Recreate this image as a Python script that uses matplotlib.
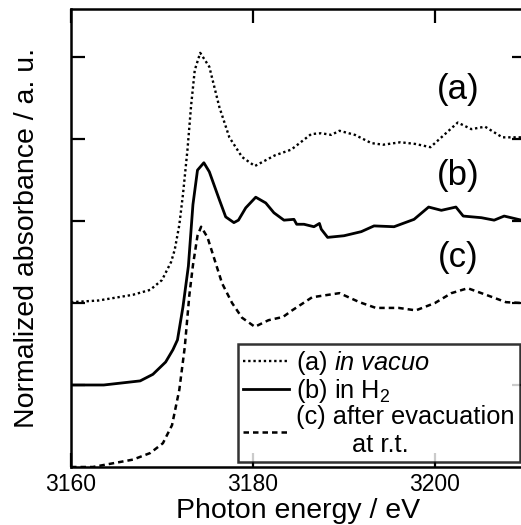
"""
XANES spectra: (a) in vacuo, (b) in H2, (c) after evacuation at r.t.
Output: out.png
"""

import matplotlib
matplotlib.use("Agg")
import matplotlib.pyplot as plt

plt.rcParams["font.family"] = ["Liberation Sans", "DejaVu Sans"]
plt.rcParams["mathtext.fontset"] = "custom"
plt.rcParams["mathtext.rm"] = "Liberation Sans"
plt.rcParams["mathtext.it"] = "Liberation Sans:italic"

# ── data (offset units, tick spacing = 1) ─────────────────────────────────────
energy_a = [3160.0, 3163.0, 3166.8, 3168.7, 3170.0, 3171.0, 3171.4, 3171.9, 3172.3,
            3172.8, 3173.2, 3173.6, 3174.2, 3175.2, 3176.3, 3177.4, 3178.8, 3180.2,
            3182.4, 3184.2, 3186.4, 3187.5, 3188.6, 3189.5, 3191.2, 3193.0, 3194.3,
            3196.2, 3197.8, 3199.5, 3202.5, 3204.0, 3205.5, 3207.4, 3209.5, 3210.0]
absorb_a = [2.01, 2.03, 2.10, 2.16, 2.28, 2.50, 2.65, 2.95, 3.32,
            3.87, 4.41, 4.84, 5.05, 4.88, 4.39, 4.02, 3.78, 3.67,
            3.80, 3.87, 4.06, 4.07, 4.05, 4.10, 4.05, 3.95, 3.93,
            3.96, 3.94, 3.90, 4.20, 4.12, 4.15, 4.02, 4.02, 4.02]

energy_b = [3160.0, 3163.6, 3167.6, 3169.0, 3170.4, 3171.2, 3171.7, 3172.3, 3172.9,
            3173.4, 3173.9, 3174.6, 3175.2, 3176.3, 3177.0, 3177.9, 3178.4, 3179.2,
            3180.3, 3181.4, 3182.3, 3183.4, 3184.5, 3184.8, 3185.6, 3186.7, 3187.3,
            3187.5, 3188.2, 3190.0, 3191.9, 3193.3, 3195.5, 3197.7, 3199.3, 3200.7,
            3202.3, 3203.1, 3205.1, 3206.5, 3207.6, 3209.5, 3210.0]
absorb_b = [1.00, 1.00, 1.05, 1.13, 1.28, 1.43, 1.55, 1.95, 2.45,
            3.20, 3.62, 3.71, 3.60, 3.26, 3.05, 2.98, 3.01, 3.16,
            3.29, 3.22, 3.10, 3.01, 3.02, 2.96, 2.96, 2.93, 2.97,
            2.90, 2.80, 2.82, 2.87, 2.94, 2.93, 3.02, 3.17, 3.13,
            3.17, 3.06, 3.04, 3.01, 3.06, 3.01, 3.01]

energy_c = [3160.0, 3162.4, 3166.8, 3168.7, 3170.1, 3171.1, 3171.9, 3172.5, 3173.0,
            3173.4, 3173.9, 3174.3, 3175.0, 3175.8, 3176.6, 3177.7, 3178.8, 3180.2,
            3181.7, 3183.3, 3184.3, 3186.5, 3189.5, 3191.7, 3193.5, 3196.0, 3197.9,
            3200.0, 3201.8, 3203.6, 3205.6, 3207.8, 3209.5, 3210.0]
absorb_c = [0.00, 0.00, 0.09, 0.17, 0.29, 0.51, 0.94, 1.46, 2.09,
            2.46, 2.82, 2.93, 2.80, 2.52, 2.24, 2.00, 1.82, 1.71,
            1.79, 1.83, 1.91, 2.07, 2.12, 2.01, 1.94, 1.94, 1.91,
            2.00, 2.12, 2.18, 2.10, 2.01, 2.00, 2.00]

curve_labels = ["(a)", "(b)", "(c)"]
label_pos = [(3202.5, 4.6), (3202.5, 3.55), (3202.5, 2.55)]
legend_labels = ["(a) $\\mathit{in\\ vacuo}$",
                 "(b) in H$_2$",
                 "(c) after evacuation\n        at r.t."]

x_ticks = [3160, 3180, 3200]
y_ticks = [1, 2, 3, 4, 5]


def main():
    fig = plt.figure(figsize=(5.21, 5.25), dpi=100)
    ax = fig.add_axes([71 / 521, 58 / 525, 455 / 521, 458 / 525])

    ax.plot(energy_a, absorb_a, color="black", linestyle=(0, (1, 1.2)), lw=1.7,
            label=legend_labels[0])
    ax.plot(energy_b, absorb_b, color="black", linestyle="-", lw=2.0,
            label=legend_labels[1])
    ax.plot(energy_c, absorb_c, color="black", linestyle=(0, (2.2, 1.6)), lw=1.8,
            label=legend_labels[2])

    for txt, (xx, yy) in zip(curve_labels, label_pos):
        ax.text(xx, yy, txt, fontsize=25, ha="center", va="center")

    ax.set_xlim(3160, 3210)
    ax.set_ylim(0, 5.585)
    ax.set_xticks(x_ticks)
    ax.set_yticks(y_ticks)
    ax.set_yticklabels([])
    ax.tick_params(direction="in", length=10, width=1.6, top=True, right=True,
                   labelsize=16.5)
    ax.tick_params(axis="x", pad=4)
    for sp in ax.spines.values():
        sp.set_linewidth(1.8)

    ax.set_xlabel("Photon energy / eV", fontsize=20.5, labelpad=2)
    ax.set_ylabel("Normalized absorbance / a. u.", fontsize=20.5, labelpad=19)

    leg = ax.legend(loc="lower left", bbox_to_anchor=(0.367, 0.011),
                    fontsize=18.3, frameon=True, fancybox=False,
                    handlelength=1.8, handletextpad=0.3, borderpad=0.2,
                    labelspacing=0.0, borderaxespad=0)
    leg.get_frame().set_edgecolor("black")
    leg.get_frame().set_linewidth(1.8)

    fig.savefig("out.png", dpi=100)


if __name__ == "__main__":
    main()
